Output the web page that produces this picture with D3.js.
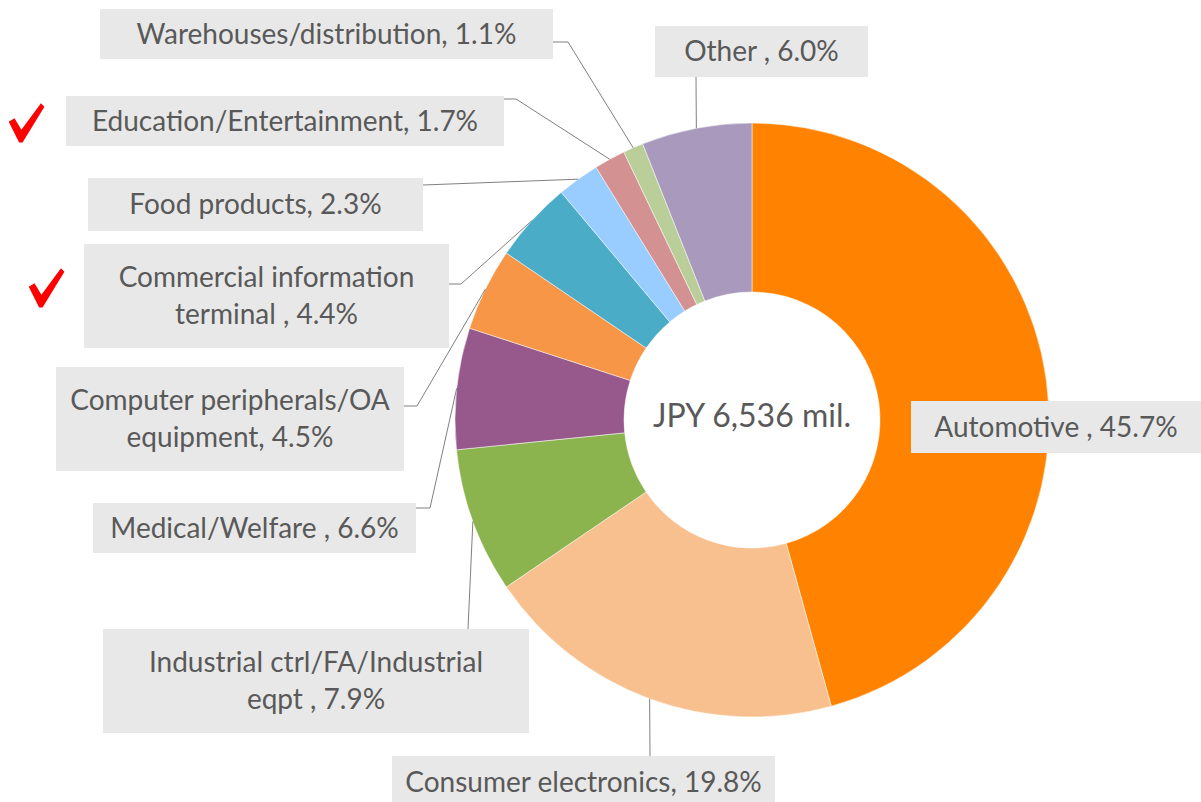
<!DOCTYPE html>
<html>
<head>
<meta charset="utf-8">
<title>Sales by application</title>
<script src="https://d3js.org/d3.v7.min.js"></script>
<style>
  body { margin: 0; background: #fff; }
  text { font-family: Lato, "Open Sans", sans-serif; fill: #595959; }
  .lead { fill: none; stroke: #808080; stroke-width: 1; }
  .box { fill: #e8e8e8; }
</style>
</head>
<body>
<svg id="main" width="1201" height="802"></svg>
<script>
// data, clockwise from 12 o'clock
var categories = ["Automotive", "Consumer electronics", "Industrial ctrl/FA/Industrial eqpt",
  "Medical/Welfare", "Computer peripherals/OA equipment", "Commercial information terminal",
  "Food products", "Education/Entertainment", "Warehouses/distribution", "Other"];
var shares = [45.7, 19.8, 7.9, 6.6, 4.5, 4.4, 2.3, 1.7, 1.1, 6.0];
var labelLines = [
  ["Automotive , 45.7%"],
  ["Consumer electronics, 19.8%"],
  ["Industrial ctrl/FA/Industrial", "eqpt , 7.9%"],
  ["Medical/Welfare , 6.6%"],
  ["Computer peripherals/OA", "equipment, 4.5%"],
  ["Commercial information", "terminal , 4.4%"],
  ["Food products, 2.3%"],
  ["Education/Entertainment, 1.7%"],
  ["Warehouses/distribution, 1.1%"],
  ["Other , 6.0%"]
];
var total = "JPY 6,536 mil.";
var colors = ["#ff8300", "#f9c08f", "#8bb34e", "#97588b", "#f79646", "#4aacc6",
  "#99ccff", "#d39191", "#b9ce98", "#a99abd"];

// label placement: box [x, y, w, h], leader start [x, y], elbow length
var labelBoxes = [
  {b: [911, 401, 290, 52], a: null},
  {b: [392, 756, 383, 52], a: [650, 756], e: 0},
  {b: [103, 629, 426, 104], a: [468, 629], e: 0},
  {b: [93, 503, 323, 50], a: [416, 508], e: 14},
  {b: [56, 367, 348, 104], a: [404, 406], e: 13},
  {b: [84, 244, 365, 104], a: [449, 284], e: 12},
  {b: [88, 178, 335, 53], a: [423, 185], e: 0},
  {b: [66, 96, 438, 50], a: [504, 99], e: 12},
  {b: [100, 9, 453, 50], a: [553, 42], e: 15},
  {b: [655, 26, 213, 51], a: [696, 77], e: 0}
];

var cx = 752, cy = 420, outerR = 297, innerR = 128;

var svg = d3.select("#main");
var g = svg.append("g").attr("transform", "translate(" + cx + "," + cy + ")");

var pie = d3.pie().sort(null).value(function(d) { return d; });
var arcs = pie(shares);
var arc = d3.arc().innerRadius(innerR).outerRadius(outerR);

g.selectAll("path.slice").data(arcs).enter().append("path")
  .attr("class", "slice")
  .attr("d", arc)
  .attr("fill", function(d, i) { return colors[i]; })
  .attr("stroke", "#fff")
  .attr("stroke-width", 0.5);

g.append("text")
  .attr("x", 0).attr("y", -4)
  .attr("dy", "0.35em")
  .attr("text-anchor", "middle")
  .style("font-size", "32px")
  .text(total);

// leader lines go to the outer edge at the middle of each slice
function edgePoint(d) {
  var a = (d.startAngle + d.endAngle) / 2;
  return [cx + outerR * Math.sin(a), cy - outerR * Math.cos(a)];
}

var lab = svg.append("g");
arcs.forEach(function(d, i) {
  var L = labelBoxes[i];
  if (L.a) {
    var p = edgePoint(d);
    var path = d3.path();
    path.moveTo(L.a[0], L.a[1]);
    if (L.e) path.lineTo(L.a[0] + L.e, L.a[1]);
    path.lineTo(p[0], p[1]);
    lab.append("path").attr("class", "lead").attr("d", path.toString());
  }
});

arcs.forEach(function(d, i) {
  var L = labelBoxes[i];
  var b = L.b;
  lab.append("rect").attr("class", "box")
    .attr("x", b[0]).attr("y", b[1]).attr("width", b[2]).attr("height", b[3]);
  var lines = labelLines[i];
  var lh = 37;
  var mid = b[1] + b[3] / 2;
  var t = lab.append("text")
    .attr("text-anchor", "middle")
    .style("font-size", "28px");
  lines.forEach(function(s, k) {
    t.append("tspan")
      .attr("x", b[0] + b[2] / 2)
      .attr("y", mid + (k - (lines.length - 1) / 2) * lh)
      .attr("dy", "0.35em")
      .text(s);
  });
});

// red check marks beside two labels
var checks = [[26, 124], [46, 289]];
svg.selectAll("path.check").data(checks).enter().append("path")
  .attr("class", "check")
  .attr("transform", function(d) { return "translate(" + d[0] + "," + d[1] + ") scale(1.15)"; })
  .attr("d", "M-15,-2 L-10,-5 L-4,5 L13,-18 L16,-15 L-3,16 L-6,16 Z")
  .attr("fill", "#f00");
</script>
</body>
</html>
